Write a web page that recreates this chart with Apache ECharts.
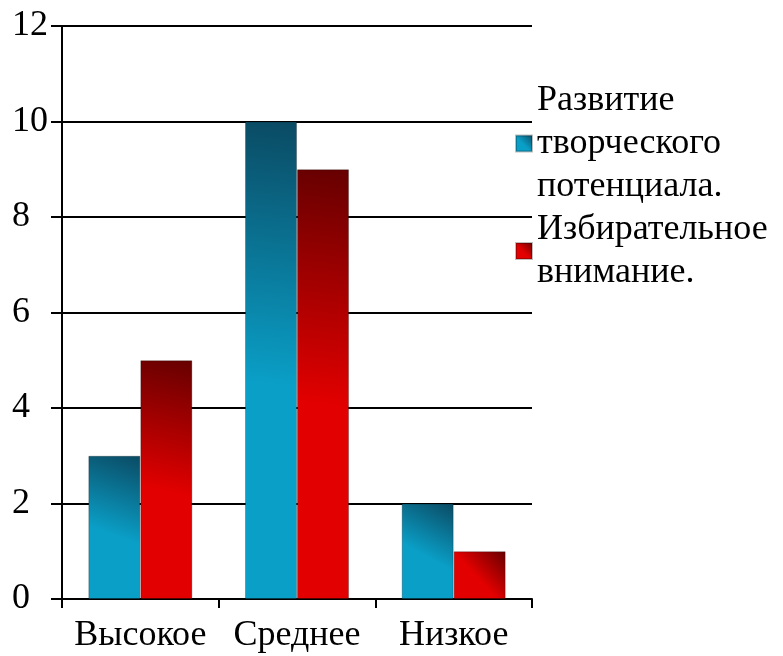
<!DOCTYPE html>
<html>
<head>
<meta charset="utf-8">
<script src="https://cdn.jsdelivr.net/npm/echarts@6/dist/echarts.min.js"></script>
<style>
html,body{margin:0;padding:0;background:#fff;}
#c{width:783px;height:656px;}
</style>
</head>
<body>
<div id="c"></div>
<script>
var categories = ['Высокое', 'Среднее', 'Низкое'];
var seriesNames = ['Развитие\nтворческого\nпотенциала.', 'Избирательное\nвнимание.'];
var creativity = [3, 10, 2];
var attention = [5, 9, 1];
var yTicks = { min: 0, max: 12, interval: 2 };

var FONT = 'Liberation Serif';
var FS = 36;
function grad(dark, bright) {
  return new echarts.graphic.LinearGradient(1, 0, 0, 1, [
    { offset: 0, color: dark },
    { offset: 0.55, color: bright },
    { offset: 1, color: bright }
  ]);
}
var chart = echarts.init(document.getElementById('c'), null, { renderer: 'canvas' });
chart.setOption({
  backgroundColor: '#fff',
  animation: false,
  textStyle: { fontFamily: FONT, fontSize: FS, color: '#000' },
  grid: { left: 62, right: 251, top: 26, bottom: 57, containLabel: false },
  legend: {
    orient: 'vertical',
    left: 515,
    top: 79,
    padding: 0,
    itemGap: 0,
    itemWidth: 16,
    itemHeight: 16,
    icon: 'rect',
    textStyle: { fontFamily: FONT, fontSize: FS, color: '#000', lineHeight: 43 },
    data: seriesNames
  },
  xAxis: {
    type: 'category',
    data: categories,
    axisLine: { show: true, lineStyle: { color: '#000', width: 2 } },
    axisTick: { show: true, length: 9, lineStyle: { color: '#000', width: 2 } },
    axisLabel: { fontFamily: FONT, fontSize: FS, color: '#000', margin: 19, interval: 0 },
    splitLine: { show: false }
  },
  yAxis: {
    type: 'value',
    min: yTicks.min,
    max: yTicks.max,
    interval: yTicks.interval,
    axisLine: { show: true, lineStyle: { color: '#000', width: 2 } },
    axisTick: { show: true, length: 11, lineStyle: { color: '#000', width: 2 } },
    axisLabel: { fontFamily: FONT, fontSize: FS, color: '#000', margin: 50, align: 'left' },
    splitLine: { show: true, lineStyle: { color: '#000', width: 2 } }
  },
  series: [
    {
      name: seriesNames[0],
      type: 'bar',
      data: creativity,
      barWidth: 52,
      barGap: '0%',
      itemStyle: { color: grad('#0a4a63', '#0a9fc7'), borderColor: 'rgba(0,0,0,0.25)', borderWidth: 1 }
    },
    {
      name: seriesNames[1],
      type: 'bar',
      data: attention,
      barWidth: 52,
      barGap: '0%',
      itemStyle: { color: grad('#660000', '#e30000'), borderColor: 'rgba(0,0,0,0.25)', borderWidth: 1 }
    }
  ]
});
</script>
</body>
</html>
